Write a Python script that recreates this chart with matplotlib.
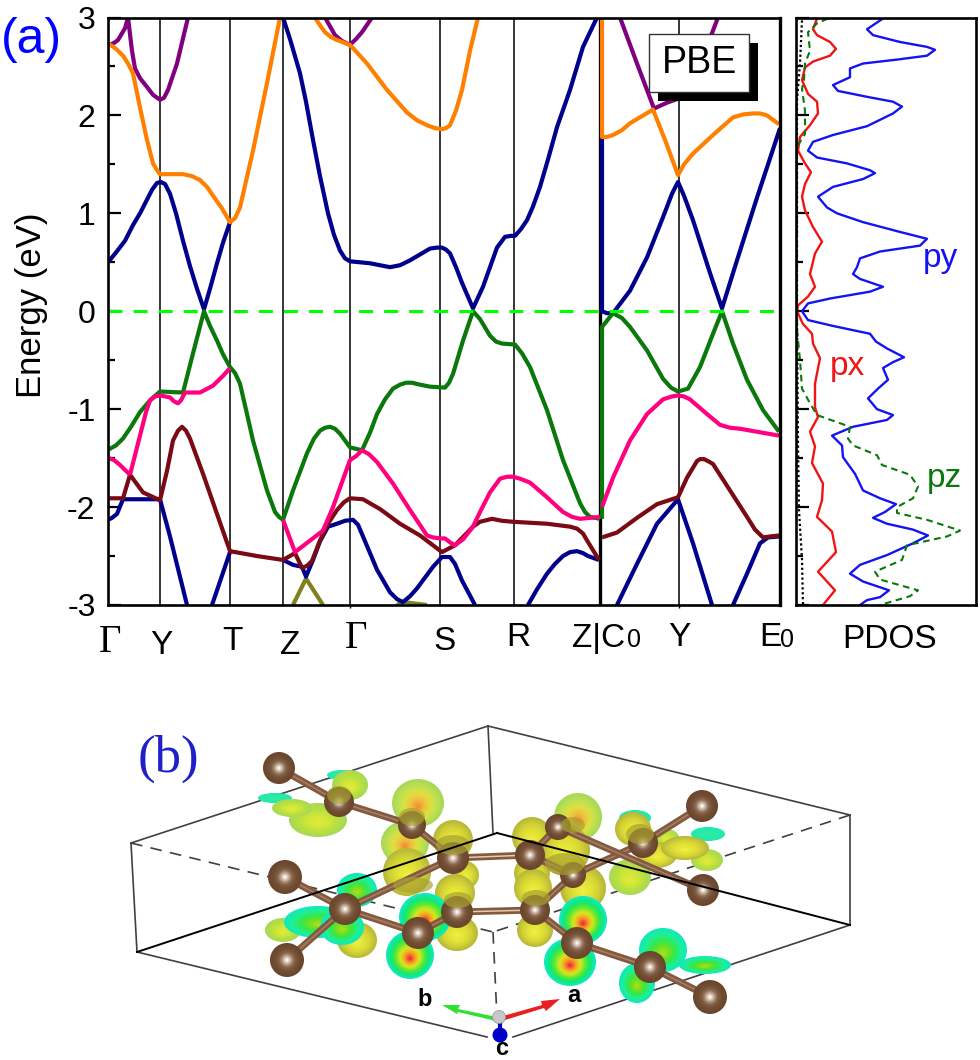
import numpy as np
import matplotlib
matplotlib.use("Agg")
import matplotlib.pyplot as plt
from matplotlib.colors import to_rgb
from matplotlib.patches import Circle, Ellipse, Rectangle, Polygon

plt.rcParams['font.family'] = ['Liberation Sans', 'DejaVu Sans']

# band structure, k is the position along the path, E in eV
navy1_k = [108, 116, 125, 133, 140, 147, 152, 157, 160.7, 165, 170, 176, 183, 190, 197, 204, 210, 217, 223, 230]
navy1_e = [0.5, 0.6, 0.72, 0.88, 1.0, 1.14, 1.24, 1.31, 1.32, 1.3, 1.2, 1.0, 0.72, 0.46, 0.23, 0.02, 0.23, 0.49, 0.7, 0.91]
navy2_k = [283, 290, 300, 306, 313, 320, 328, 334, 340, 345, 350, 370, 380, 390, 400, 410, 420, 430, 437, 442, 446, 450, 456, 462, 473, 478, 483, 490, 497, 505, 511, 515, 521, 527, 533, 540, 548, 557, 570, 583, 597]
navy2_e = [3.0, 2.78, 2.43, 2.14, 1.75, 1.38, 1.0, 0.78, 0.62, 0.54, 0.51, 0.49, 0.47, 0.45, 0.47, 0.52, 0.58, 0.64, 0.65, 0.65, 0.63, 0.59, 0.45, 0.29, 0.03, 0.14, 0.25, 0.45, 0.65, 0.76, 0.77, 0.77, 0.84, 0.93, 1.07, 1.27, 1.55, 1.88, 2.26, 2.7, 3.0]
navy3_k = [602, 602, 607, 613, 630, 647, 663, 672, 678, 684, 693, 710, 722, 737, 757, 780]
navy3_e = [1.78, 0.0, -0.02, -0.02, 0.21, 0.55, 0.96, 1.2, 1.32, 1.18, 0.93, 0.39, 0.03, 0.52, 1.16, 1.87]
navy4_k = [108, 112, 117, 123, 160, 170, 187]
navy4_e = [-2.13, -2.11, -2.07, -1.92, -1.92, -2.3, -3.0]
navy5_k = [212, 230]
navy5_e = [-3.0, -2.46]
navy6_k = [283, 293, 302, 306, 313, 320, 328, 337, 345, 353, 358, 363, 370, 377, 390, 397, 403, 410, 417, 433, 442, 450, 455, 462, 475]
navy6_e = [-2.54, -2.59, -2.61, -2.71, -2.54, -2.35, -2.2, -2.17, -2.14, -2.13, -2.18, -2.3, -2.47, -2.64, -2.87, -2.94, -2.97, -2.91, -2.83, -2.61, -2.51, -2.51, -2.58, -2.75, -3.0]
navy7_k = [528, 537, 547, 555, 563, 570, 577, 583, 588, 599]
navy7_e = [-3.0, -2.84, -2.68, -2.58, -2.5, -2.46, -2.45, -2.47, -2.5, -2.54]
navy8_k = [617, 637, 657, 678, 693, 712]
navy8_e = [-3.0, -2.58, -2.17, -1.92, -2.37, -3.0]
navy9_k = [733, 747, 760, 768, 779]
navy9_e = [-3.0, -2.68, -2.37, -2.31, -2.3]

orange1_k = [109, 116, 123, 128, 133, 140, 147, 153, 157, 160, 183, 192, 200, 207, 213, 222, 230, 235, 240, 253, 267, 280]
orange1_e = [2.73, 2.68, 2.61, 2.53, 2.43, 2.08, 1.75, 1.51, 1.44, 1.40, 1.40, 1.38, 1.34, 1.27, 1.18, 1.05, 0.91, 0.95, 1.06, 1.64, 2.33, 3.0]
orange2_k = [315, 320, 325, 331, 337, 350, 367, 387, 407, 417, 427, 435, 442, 446, 450, 456, 462, 470, 478]
orange2_e = [3.0, 2.92, 2.85, 2.8, 2.77, 2.72, 2.53, 2.26, 2.03, 1.95, 1.9, 1.87, 1.86, 1.87, 1.9, 2.05, 2.26, 2.66, 3.0]
orange3_k = [602, 602, 607, 613, 622, 630, 653, 665, 678, 684, 693, 713, 733, 743, 753, 760, 767, 779]
orange3_e = [3.0, 1.78, 1.78, 1.8, 1.85, 1.92, 2.06, 1.75, 1.39, 1.5, 1.61, 1.8, 1.98, 2.01, 2.02, 2.02, 2.0, 1.91]

purple1_k = [109, 114, 118, 125, 128, 132, 135, 140, 147, 153, 160, 164, 168, 177, 188]
purple1_e = [2.72, 2.74, 2.77, 2.89, 3.0, 2.66, 2.48, 2.38, 2.29, 2.21, 2.16, 2.18, 2.26, 2.53, 3.0]
purple2_k = [325, 335, 342, 350, 356, 362, 372]
purple2_e = [3.0, 2.82, 2.76, 2.72, 2.78, 2.85, 3.0]
purple3_k = [620, 637, 654, 667, 678, 695, 712, 718]
purple3_e = [3.0, 2.53, 2.07, 2.13, 2.17, 2.45, 2.84, 3.0]

green1_k = [109, 116, 123, 131, 140, 150, 160, 183, 193, 204, 210, 217, 223, 230, 235, 240, 247, 253, 267, 275, 279, 283, 293, 307, 314, 320, 325, 330, 335, 340, 350, 362, 370, 377, 385, 393, 400, 406, 412, 420, 430, 445, 449, 453, 463, 473, 480, 490, 496, 502, 515, 522, 530, 547, 563, 580, 585, 590, 600]
green1_e = [-1.41, -1.37, -1.3, -1.18, -1.03, -0.91, -0.82, -0.83, -0.43, 0.0, -0.15, -0.3, -0.44, -0.57, -0.63, -0.74, -1.05, -1.32, -1.83, -2.05, -2.1, -2.13, -1.83, -1.45, -1.3, -1.22, -1.19, -1.18, -1.2, -1.25, -1.39, -1.42, -1.24, -1.05, -0.9, -0.79, -0.75, -0.73, -0.73, -0.75, -0.77, -0.78, -0.73, -0.64, -0.3, 0.0, -0.08, -0.25, -0.31, -0.33, -0.34, -0.43, -0.57, -1.01, -1.52, -1.96, -2.05, -2.1, -2.12]
green2_k = [602, 602, 613, 622, 630, 647, 663, 671, 678, 688, 700, 713, 722, 733, 747, 763, 779]
green2_e = [-2.12, -0.16, -0.02, -0.07, -0.16, -0.4, -0.69, -0.78, -0.82, -0.79, -0.57, -0.23, 0.0, -0.33, -0.7, -1.01, -1.23]

pink1_k = [109, 114, 120, 130]
pink1_e = [-1.5, -1.52, -1.57, -1.67]
pink2_k = [130, 140, 146, 150, 155, 160, 170, 174, 178, 181, 185, 200, 213, 223, 230]
pink2_e = [-1.67, -1.27, -1.03, -0.91, -0.87, -0.86, -0.88, -0.92, -0.94, -0.91, -0.83, -0.83, -0.76, -0.66, -0.58]
pink3_k = [283, 295, 323, 333, 350, 356, 362, 369, 377, 393, 410, 427, 433, 440, 445, 450, 455, 463, 473, 480, 490, 500, 507, 513, 520, 530, 547, 563, 572, 580, 600]
pink3_e = [-2.13, -2.46, -2.24, -2.0, -1.52, -1.48, -1.42, -1.46, -1.54, -1.76, -2.03, -2.29, -2.31, -2.32, -2.32, -2.36, -2.39, -2.33, -2.2, -2.05, -1.85, -1.71, -1.69, -1.69, -1.71, -1.75, -1.9, -2.05, -2.1, -2.12, -2.1]
pink4_k = [602, 613, 630, 647, 663, 672, 678, 684, 690, 707, 720, 730, 740, 779]
pink4_e = [-2.0, -1.7, -1.32, -1.05, -0.9, -0.87, -0.86, -0.87, -0.9, -1.05, -1.16, -1.19, -1.2, -1.27]

brown1_k = [109, 123, 130, 143, 160, 167, 173, 178, 182, 186, 190, 203, 217, 230, 257, 283, 295, 302, 307, 312, 320, 328, 337, 344, 350, 363, 380, 400, 420, 442, 455, 473, 480, 492, 502, 513, 547, 570, 577, 583, 587, 599]
brown1_e = [-1.91, -1.91, -1.67, -1.85, -1.93, -1.63, -1.32, -1.22, -1.18, -1.22, -1.3, -1.66, -2.07, -2.45, -2.5, -2.54, -2.47, -2.62, -2.6, -2.55, -2.34, -2.17, -2.03, -1.95, -1.91, -1.92, -2.02, -2.17, -2.29, -2.46, -2.39, -2.2, -2.15, -2.12, -2.14, -2.15, -2.17, -2.2, -2.22, -2.27, -2.34, -2.54]
brown2_k = [602, 617, 637, 657, 672, 678, 687, 697, 700, 704, 708, 713, 730, 747, 755, 763, 770, 779]
brown2_e = [-2.31, -2.26, -2.11, -1.97, -1.92, -1.9, -1.7, -1.53, -1.51, -1.51, -1.53, -1.56, -1.83, -2.1, -2.23, -2.31, -2.3, -2.29]

olive1_k = [293, 306, 323]
olive1_e = [-3.0, -2.73, -3.0]
olive2_k = [397, 403, 427]
olive2_e = [-3.0, -2.97, -3.0]

# PDOS curves, arbitrary units against energy
py_dos = [87, 71, 77, 104, 131, 139, 131, 101, 67, 54, 54, 37, 42, 71, 97, 106, 97, 71, 37, 17, 12, 21, 51, 74, 79, 67, 37, 22, 31, 41, 67, 104, 131, 124, 84, 64, 61, 57, 64, 87, 74, 34, 12, 6, 12, 37, 74, 80, 91, 108, 97, 87, 92, 82, 72, 81, 97, 91, 57, 36, 46, 47, 59, 67, 84, 100, 89, 77, 91, 117, 132, 117, 91, 64, 54, 67, 93, 84, 71, 64]
py_e = [2.99, 2.88, 2.82, 2.75, 2.70, 2.67, 2.61, 2.57, 2.53, 2.48, 2.39, 2.31, 2.25, 2.19, 2.14, 2.09, 2.02, 1.89, 1.80, 1.73, 1.64, 1.57, 1.51, 1.44, 1.41, 1.35, 1.27, 1.17, 1.06, 1.0, 0.91, 0.81, 0.74, 0.67, 0.61, 0.54, 0.45, 0.38, 0.33, 0.25, 0.20, 0.13, 0.08, 0.0, -0.09, -0.15, -0.23, -0.31, -0.38, -0.47, -0.52, -0.58, -0.70, -0.79, -0.89, -1.0, -1.06, -1.11, -1.18, -1.27, -1.37, -1.49, -1.66, -1.83, -1.91, -1.97, -2.05, -2.11, -2.17, -2.23, -2.29, -2.37, -2.49, -2.59, -2.68, -2.76, -2.85, -2.92, -2.95, -3.0]
px_dos = [21, 17, 21, 34, 40, 34, 17, 9, 6, 12, 21, 22, 14, 4, 2, 9, 15, 9, 6, 9, 17, 26, 19, 14, 19, 12, 2, 1, 7, 16, 17, 24, 19, 19, 22, 14, 19, 16, 27, 26, 21, 36, 40, 22, 39, 27]
px_e = [2.99, 2.88, 2.82, 2.75, 2.68, 2.61, 2.55, 2.49, 2.36, 2.22, 2.14, 2.02, 1.90, 1.78, 1.64, 1.51, 1.42, 1.30, 1.17, 1.03, 0.86, 0.71, 0.59, 0.38, 0.25, 0.15, 0.06, 0.0, -0.13, -0.23, -0.33, -0.48, -0.74, -0.98, -1.08, -1.23, -1.38, -1.55, -1.76, -1.93, -2.10, -2.25, -2.46, -2.66, -2.85, -3.0]
pz_dos = [32, 21, 12, 14, 9, 8, 6, 9, 9, 1, 1, 1, 4, 6, 14, 21, 54, 52, 57, 81, 86, 114, 122, 117, 101, 101, 131, 164, 151, 111, 106, 79, 84, 122, 114, 84]
pz_e = [2.99, 2.94, 2.85, 2.66, 2.53, 2.36, 2.27, 2.05, 1.81, 1.68, 0.0, -0.19, -0.5, -0.79, -0.94, -1.06, -1.18, -1.30, -1.37, -1.47, -1.57, -1.67, -1.79, -1.91, -2.0, -2.06, -2.13, -2.24, -2.30, -2.39, -2.54, -2.66, -2.74, -2.85, -2.91, -3.0]
s_dos = [6, 4, 1, 1, 2, 3, 6, 7]
s_e = [2.97, 2.53, 2.15, 0.0, -1.35, -2.03, -2.54, -3.0]

k_lines = [160, 230, 283, 350, 440, 514, 679]
k_break = 599.5
energy_ticks = [-3, -2, -1, 0, 1, 2, 3]
energy_labels = ['-3', '-2', '-1', '0', '1', '2', '3']
energy_minor = [-2.5, -1.5, -0.5, 0.5, 1.5, 2.5]

# x tick labels are placed by hand like in the figure
k_labels = [('Γ', 110, 642, 'Liberation Serif'), ('Y', 161, 645, None), ('T', 232, 641, None),
            ('Z', 290, 645, None), ('Γ', 356, 638, 'Liberation Serif'), ('S', 445, 641, None),
            ('R', 518, 637, None), ('Z|C', 599, 638, None), ('Y', 679, 637, None), ('E', 770, 637, None)]

# panel b, structure drawn in image pixels
box_back = [((131, 843), (488, 726)), ((488, 726), (850, 815)), ((131, 843), (137, 952)),
            ((488, 726), (493, 833)), ((850, 815), (850, 925)), ((137, 952), (487, 1037)), ((513, 1037), (850, 925))]
box_front = [((137, 952), (497, 833)), ((497, 833), (850, 925))]
box_dash = [((131, 843), (493, 932)), ((850, 815), (493, 932)), ((493, 932), (497, 1018))]

# x, y, rx, ry, kind
blobs = [(275, 798, 17, 5, 'teal'), (343, 775, 16, 5, 'teal'), (635, 818, 16, 8, 'teal'), (708, 834, 17, 7, 'teal'),
         (350, 785, 18, 15, 'lime'), (318, 820, 29, 17, 'lime'), (292, 808, 20, 9, 'lime'), (418, 803, 26, 24, 'warm'), (405, 843, 24, 22, 'warm'),
         (578, 817, 24, 24, 'warm'), (630, 877, 21, 18, 'lime'), (707, 860, 16, 11, 'lime'), (667, 838, 12, 9, 'lime'), (657, 855, 20, 13, 'yellow'),
         (685, 848, 24, 12, 'yellow'), (633, 829, 18, 17, 'yellow'), (453, 840, 20, 20, 'yellow'), (532, 837, 20, 20, 'yellow'),
         (532, 873, 18, 17, 'yellow'), (465, 875, 14, 14, 'yellow'), (407, 872, 24, 24, 'yellow'), (565, 850, 25, 26, 'yellow'), (455, 893, 20, 19, 'yellow'),
         (533, 888, 19, 19, 'yellow'), (583, 888, 23, 23, 'yellow'), (457, 933, 21, 18, 'yellow'), (535, 930, 18, 17, 'yellow'),
         (283, 930, 18, 12, 'lime'), (357, 940, 20, 18, 'yellow'), (357, 890, 20, 17, 'heat_low'), (318, 922, 34, 16, 'heat_low'),
         (342, 927, 22, 18, 'heat_low'), (425, 917, 26, 24, 'heat'), (410, 955, 24, 24, 'heat'), (583, 920, 24, 24, 'heat'), (570, 962, 26, 24, 'heat'),
         (663, 950, 24, 22, 'heat_low'), (705, 965, 26, 9, 'heat_low'), (637, 983, 18, 20, 'heat_low')]

ring_colors = {
    'teal': ['#20e8b0', '#30eca0'],
    'yellow': ['#b8b83a', '#d4d436', '#e4e436', '#eeee44'],
    'lime': ['#a8d858', '#b8e040', '#d0e838', '#e4e83c'],
    'warm': ['#a8d858', '#c0e050', '#e0e040', '#f0c040', '#f09030'],
    'heat_low': ['#10e8c0', '#20f090', '#30e850', '#70e020', '#a8e020'],
    'heat': ['#10e8c0', '#10e870', '#60e830', '#d8e820', '#f8a020', '#f03040'],
}

# darker caps where an atom shows through a lobe
lenses = [(453, 845, 17, 10), (412, 817, 13, 9), (339, 795, 12, 9), (413, 885, 20, 8), (458, 900, 14, 8),
          (536, 898, 14, 8), (565, 864, 20, 11), (573, 825, 12, 8), (640, 834, 14, 10)]

atoms = [(279, 768, 16), (339, 802, 15), (412, 825, 14), (453, 858, 16), (530, 855, 15), (643, 843, 15), (702, 806, 16),
         (703, 890, 16), (573, 875, 13), (287, 960, 17), (285, 877, 17), (345, 909, 16), (457, 912, 16), (535, 910, 15),
         (418, 933, 16), (577, 943, 16), (650, 967, 16), (710, 997, 17), (558, 827, 13)]
bonds = [(0, 1), (1, 2), (2, 3), (3, 4), (12, 13), (8, 13), (4, 8), (8, 5), (5, 6), (4, 18), (18, 7), (10, 11), (11, 14),
         (14, 12), (11, 3), (9, 11), (13, 15), (15, 16), (16, 17)]
double_bonds = [(3, 4), (12, 13)]

navy = '#00008c'
orange = '#ff8000'
purple = '#800080'
green = '#0a780a'
pink = '#ff0080'
brown = '#7a0a14'
olive = '#80801e'

bands = [(olive1_k, olive1_e, olive), (olive2_k, olive2_e, olive),
         (navy1_k, navy1_e, navy), (navy2_k, navy2_e, navy), (navy3_k, navy3_e, navy), (navy4_k, navy4_e, navy),
         (navy5_k, navy5_e, navy), (navy6_k, navy6_e, navy), (navy7_k, navy7_e, navy), (navy8_k, navy8_e, navy), (navy9_k, navy9_e, navy),
         (purple1_k, purple1_e, purple), (purple2_k, purple2_e, purple), (purple3_k, purple3_e, purple),
         (orange1_k, orange1_e, orange), (orange2_k, orange2_e, orange), (orange3_k, orange3_e, orange),
         (green1_k, green1_e, green), (green2_k, green2_e, green),
         (brown1_k, brown1_e, brown), (brown2_k, brown2_e, brown),
         (pink1_k, pink1_e, pink), (pink2_k, pink2_e, pink), (pink3_k, pink3_e, pink), (pink4_k, pink4_e, pink)]

W, H = 980, 1060
fig = plt.figure(figsize=(W / 100, H / 100), dpi=100)


def rect(x0, y0, x1, y1):
    return [x0 / W, 1 - y1 / H, (x1 - x0) / W, (y1 - y0) / H]


def ramp(cols, n):
    c = np.array([to_rgb(v) for v in cols])
    t = np.linspace(0, len(cols) - 1, n)
    return [tuple(np.interp(v, np.arange(len(cols)), c[:, i]) for i in range(3)) for v in t]


ax = fig.add_axes(rect(108, 17.5, 780, 605))
ax.set_xlim(108, 780)
ax.set_ylim(-3, 3)
for k in k_lines:
    ax.axvline(k, color='black', lw=1.1, zorder=1)
ax.axvline(k_break, color='black', lw=2.4, zorder=1)
for k, e, c in bands:
    ax.plot(k, e, color=c, lw=3.0, solid_joinstyle='round', solid_capstyle='butt', zorder=2)
ax.axhline(0, color='#00ff00', lw=2.2, dashes=(4.6, 3.6), zorder=3)
ax.set_yticks(energy_ticks)
ax.set_yticklabels(energy_labels, fontsize=23)
ax.set_yticks(energy_minor, minor=True)
ax.tick_params(axis='y', which='major', direction='in', length=9.5, width=1.6, pad=9)
ax.tick_params(axis='y', which='minor', direction='in', length=5, width=1.6)
ax.set_xticks([350, 679])
ax.set_xticklabels(['', ''])
ax.tick_params(axis='x', direction='out', length=2.5, width=1)
for s in ax.spines.values():
    s.set_linewidth(1.9)
    s.set_zorder(5)
ax.spines['right'].set_linewidth(2.4)

ax2 = fig.add_axes(rect(796, 17.5, 976, 605))
ax2.set_xlim(0, 180)
ax2.set_ylim(-3, 3)
ax2.plot(s_dos, s_e, color='black', lw=1.6, ls=(0, (1, 1.2)))
ax2.plot(py_dos, py_e, color='#1414f0', lw=1.7, solid_joinstyle='round')
ax2.plot(px_dos, px_e, color='#f01414', lw=1.7, solid_joinstyle='round')
ax2.plot(pz_dos, pz_e, color=green, lw=1.5, ls=(0, (3.2, 2.2)))
ax2.set_xticks([])
ax2.set_yticks(energy_ticks)
ax2.set_yticklabels([])
ax2.set_yticks(energy_minor, minor=True)
ax2.tick_params(axis='y', which='major', direction='in', length=9.5, width=1.6)
ax2.tick_params(axis='y', which='minor', direction='in', length=5, width=1.6)
for s in ax2.spines.values():
    s.set_linewidth(1.9)
    s.set_zorder(5)

# overlay in image pixels for the labels and panel b
ov = fig.add_axes([0, 0, 1, 1], zorder=10)
ov.set_xlim(0, W)
ov.set_ylim(H, 0)
ov.axis('off')
ov.patch.set_alpha(0)

ov.text(31, 40, '(a)', color='#0000ff', fontsize=36, ha='center', va='center')
ov.text(32, 305, 'Energy (eV)', fontsize=25, rotation=90, ha='center', va='center')
for txt, x, y, fam in k_labels:
    if fam is None:
        ov.text(x, y, txt, fontsize=24, ha='center', va='center')
    else:
        ov.text(x, y, txt, fontsize=28, ha='center', va='center', family=fam)
ov.text(634, 640, '0', fontsize=18, ha='center', va='center')
ov.text(787, 640, '0', fontsize=18, ha='center', va='center')
ov.text(890, 639, 'PDOS', fontsize=24, ha='center', va='center')
ov.text(940, 258, 'py', color='#1414f0', fontsize=24, ha='center', va='center')
ov.text(847, 367, 'px', color='#f01414', fontsize=24, ha='center', va='center')
ov.text(944, 479, 'pz', color=green, fontsize=24, ha='center', va='center')

ov.add_patch(Rectangle((658, 43), 100, 58, fc='black', ec='none'))
ov.add_patch(Rectangle((649, 34), 100, 58, fc='white', ec='#333333', lw=1))
ov.text(699, 63, 'PBE', fontsize=27, ha='center', va='center')

ov.text(168, 759, '(b)', color='#2020c8', fontsize=38, family='Liberation Serif', ha='center', va='center')

for a, b in box_back:
    ov.plot([a[0], b[0]], [a[1], b[1]], color='#404040', lw=1.2, zorder=2)
for a, b in box_dash:
    ov.plot([a[0], b[0]], [a[1], b[1]], color='#404040', lw=1.2, dashes=(7, 5), zorder=2)

for x, y, rx, ry, kind in blobs:
    cols = ramp(ring_colors[kind], 14)
    n = len(cols)
    for i, c in enumerate(cols):
        f = 1 - i / n
        ov.add_patch(Ellipse((x, y + (1 - f) * ry * 0.15), 2 * rx * f, 2 * ry * f, fc=c, ec='none', zorder=3))

for i, j in bonds:
    x0, y0 = atoms[i][:2]
    x1, y1 = atoms[j][:2]
    ov.plot([x0, x1], [y0, y1], color='#84593e', lw=5, solid_capstyle='round', zorder=4)
    hl = '#e2cbb8' if (i, j) in double_bonds else '#a58068'
    ov.plot([x0, x1], [y0, y1], color=hl, lw=1.1, zorder=4)
atom_cols = ramp(['#6a462c', '#6e4a30', '#765238', '#8a6a52', '#c4ac9a', '#fdf8f0'], 12)
for x, y, r in atoms:
    for i, c in enumerate(atom_cols):
        ov.add_patch(Circle((x, y), r * (1 - i / 12), fc=c, ec='none', zorder=5))

for x, y, rx, ry in lenses:
    ov.add_patch(Ellipse((x, y), 2 * rx, 2 * ry, fc='#a8a030', ec='none', alpha=0.7, zorder=5.5))

for a, b in box_front:
    ov.plot([a[0], b[0]], [a[1], b[1]], color='black', lw=1.4, zorder=6)

# axis triad
ov.add_patch(Polygon([(497, 1017), (458, 1009), (460, 1005), (442, 1005), (457, 1014), (458, 1012), (496, 1021)], fc='#30e030', ec='none', zorder=7))
ov.add_patch(Polygon([(503, 1016), (542, 1005), (541, 1001), (560, 999), (546, 1011), (544, 1008), (505, 1020)], fc='#e82020', ec='none', zorder=7))
ov.plot([500, 500], [1018, 1036], color='#0000c0', lw=3, zorder=7)
ov.add_patch(Circle((500, 1035), 7.5, fc='#0000c8', ec='none', zorder=8))
ov.add_patch(Circle((499, 1017), 6.5, fc='#c8c8c8', ec='#909090', lw=0.5, zorder=8))
ov.text(425, 999, 'b', fontsize=17, fontweight='bold', ha='center', va='center', zorder=9)
ov.text(574, 995, 'a', fontsize=17, fontweight='bold', ha='center', va='center', zorder=9)
ov.text(502, 1055, 'c', fontsize=17, fontweight='bold', ha='center', va='baseline', zorder=9)

fig.savefig('out.png', dpi=100)
